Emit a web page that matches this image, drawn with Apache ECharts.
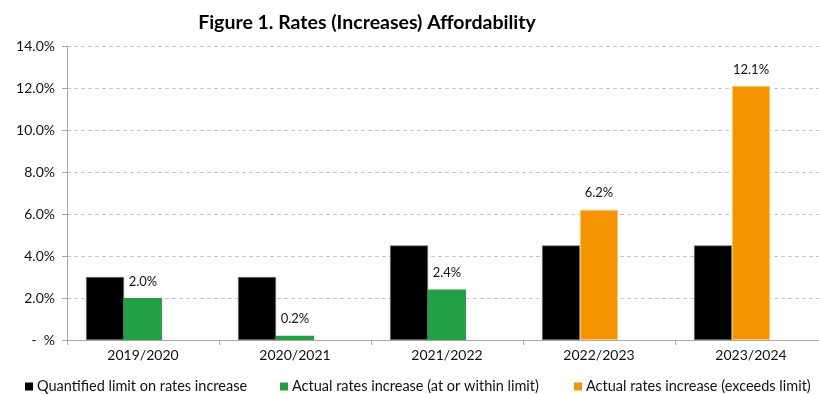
<!DOCTYPE html>
<html>
<head>
<meta charset="utf-8">
<script src="https://cdn.jsdelivr.net/npm/echarts@6/dist/echarts.min.js"></script>
<style>
  html, body { margin: 0; padding: 0; background: #fff; overflow: hidden; width: 819px; height: 394px; }
  /* canvas is a little wider than the window: the plot area runs off the right edge */
  #chart { width: 840px; height: 394px; }
</style>
</head>
<body>
<div id="chart"></div>
<script>
// Financial years on the category axis
const years = ['2019/2020', '2020/2021', '2021/2022', '2022/2023', '2023/2024'];
// Quantified limit on rates increase (%)
const limitValues = [3.0, 3.0, 4.5, 4.5, 4.5];
// Actual increase where it stayed at or within the limit (%)
const withinValues = [2.0, 0.2, 2.4, null, null];
// Actual increase where it exceeded the limit (%)
const exceedsValues = [null, null, null, 6.2, 12.1];
// Value-axis ticks (%)
const yTicks = { min: 0, max: 14, step: 2 };

const seriesNames = [
  'Quantified limit on rates increase',
  'Actual rates increase (at or within limit)',
  'Actual rates increase (exceeds limit)'
];

const FONT = 'Lato';
const chart = echarts.init(document.getElementById('chart'), null, { renderer: 'canvas' });

const pctLabel = {
  show: true,
  position: 'top',
  distance: 10,
  color: '#111',
  fontFamily: FONT,
  fontSize: 13,
  formatter: p => (p.value == null ? '' : Number(p.value).toFixed(1) + '%')
};

const legendBase = {
  bottom: -5,
  icon: 'rect',
  itemWidth: 8,
  itemHeight: 8,
  itemGap: 4,
  selectedMode: false,
  itemStyle: { borderWidth: 0 },
  textStyle: { fontFamily: FONT, fontSize: 14.5, color: '#111', padding: [0, 0, 0, -1] }
};

chart.setOption({
  animation: false,
  backgroundColor: '#ffffff',
  title: {
    text: 'Figure 1. Rates (Increases) Affordability',
    left: 362,
    textAlign: 'center',
    top: 8,
    textStyle: { fontFamily: FONT, fontWeight: 'bold', fontSize: 19.5, color: '#000' }
  },
  legend: [
    Object.assign({}, legendBase, { left: 20, data: [seriesNames[0]] }),
    Object.assign({}, legendBase, { left: 275, data: [seriesNames[1]] }),
    Object.assign({}, legendBase, { left: 569, data: [seriesNames[2]] })
  ],
  grid: { left: 67, width: 760, top: 46, bottom: 54, containLabel: false },
  xAxis: {
    type: 'category',
    data: years,
    axisLine: { lineStyle: { color: '#a6a6a6', width: 1 } },
    axisTick: { show: true, length: 5, alignWithLabel: false, lineStyle: { color: '#a6a6a6' } },
    axisLabel: { fontFamily: FONT, fontSize: 14, color: '#111', margin: 8 }
  },
  yAxis: {
    type: 'value',
    min: yTicks.min,
    max: yTicks.max,
    interval: yTicks.step,
    axisLine: { show: true, lineStyle: { color: '#a6a6a6', width: 1 } },
    axisTick: { show: true, length: 5, lineStyle: { color: '#a6a6a6' } },
    axisLabel: {
      fontFamily: FONT, fontSize: 14, color: '#111', margin: 12,
      formatter: v => (v === 0 ? '-  %' : v.toFixed(1) + '%')
    },
    splitLine: { show: true, lineStyle: { color: '#c8c8c8', type: [4, 3], width: 1 } }
  },
  series: [
    {
      name: seriesNames[0],
      type: 'bar',
      data: limitValues,
      barGap: '0%',
      barCategoryGap: '25%',
      itemStyle: { color: '#000000', borderColor: '#7f7f7f', borderWidth: 0.6 }
    },
    {
      name: seriesNames[1],
      type: 'bar',
      stack: 'actual',
      data: withinValues,
      itemStyle: { color: '#21a044' },
      label: pctLabel
    },
    {
      name: seriesNames[2],
      type: 'bar',
      stack: 'actual',
      data: exceedsValues,
      itemStyle: { color: '#f39400', borderColor: '#f9c77a', borderWidth: 0.8 },
      label: pctLabel
    },
    {
      // empty third slot, keeps each pair left of the category centre
      name: 'slot',
      type: 'bar',
      stack: 'slot',
      data: years.map(() => null),
      silent: true
    }
  ]
});
</script>
</body>
</html>
